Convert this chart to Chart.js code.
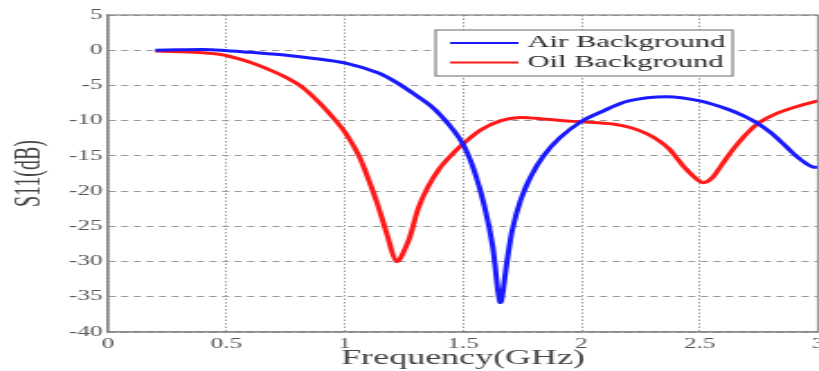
<!DOCTYPE html>
<html>
<head>
<meta charset="utf-8">
<script src="https://cdn.jsdelivr.net/npm/chart.js@4/dist/chart.umd.min.js"></script>
<style>
	html, body { margin: 0; padding: 0; background: #fff; overflow: hidden; }
	/* the reference is a horizontally stretched figure, so draw narrow and stretch */
	#wrap { width: 462px; height: 371px; transform: scaleX(1.8); transform-origin: 0 0; }
</style>
</head>
<body>
<div id="wrap"><canvas id="s11Chart"></canvas></div>
<script>
const airFreq = [0.2, 0.3, 0.4, 0.476, 0.6, 0.754, 0.88, 1.0, 1.14, 1.22, 1.31, 1.36, 1.41, 1.465, 1.507, 1.55, 1.59, 1.625, 1.657, 1.687, 1.708, 1.743, 1.785, 1.84, 1.91, 2.0, 2.08, 2.2, 2.36, 2.5, 2.62, 2.69, 2.75, 2.8, 2.85, 2.9, 2.95, 2.98, 3.0];
const airS11 = [0, 0.05, 0.1, 0, -0.3, -0.7, -1.2, -1.8, -3.2, -4.6, -6.6, -7.8, -9.4, -11.6, -13.8, -17.4, -22.1, -27.8, -35.8, -29.7, -25.5, -21.3, -18, -15, -12.4, -10.1, -8.8, -7.2, -6.6, -7.2, -8.4, -9.4, -10.5, -11.7, -13.2, -14.8, -16.1, -16.6, -16.6];

const oilFreq = [0.2, 0.3, 0.4, 0.476, 0.55, 0.615, 0.69, 0.754, 0.823, 0.893, 0.962, 1.004, 1.06, 1.1, 1.14, 1.18, 1.22, 1.27, 1.31, 1.35, 1.4, 1.45, 1.5, 1.576, 1.66, 1.74, 1.85, 1.965, 2.07, 2.14, 2.21, 2.28, 2.33, 2.37, 2.41, 2.44, 2.48, 2.515, 2.55, 2.58, 2.62, 2.65, 2.7, 2.75, 2.83, 2.92, 3.0];
const oilS11 = [-0.1, -0.2, -0.35, -0.6, -1.2, -1.9, -2.9, -3.9, -5.3, -7.45, -10.0, -11.8, -15, -18.3, -22, -26.3, -30, -27, -22.5, -19.5, -16.8, -14.9, -13.3, -11.3, -10.0, -9.55, -9.8, -10.1, -10.3, -10.5, -11.0, -11.9, -12.9, -14, -15.6, -16.8, -18.1, -18.8, -18.2, -16.9, -15.0, -13.7, -11.8, -10.3, -8.9, -7.9, -7.2];

const xTicks = [0, 0.5, 1, 1.5, 2, 2.5, 3];
const yTicks = [5, 0, -5, -10, -15, -20, -25, -30, -35, -40];

const toPoints = (xs, ys) => xs.map((x, i) => ({ x: x, y: ys[i] }));

const frameAndLegend = {
	id: "frameAndLegend",
	afterDraw(chart) {
		const c = chart.ctx;
		const a = chart.chartArea;
		c.save();
		c.strokeStyle = "#8a8a8a";
		c.lineWidth = 1.3;
		c.strokeRect(a.left, a.top, a.right - a.left, a.bottom - a.top);

		const x0 = a.left + 182, y0 = a.top + 15, w = 165, h = 46;
		c.fillStyle = "#fff";
		c.fillRect(x0, y0, w, h);
		c.strokeStyle = "#8a8a8a";
		c.strokeRect(x0, y0, w, h);
		c.font = "17px 'Liberation Serif'";
		c.textBaseline = "middle";
		chart.data.datasets.forEach((ds, i) => {
			const y = y0 + 13 + i * 19.5;
			c.strokeStyle = ds.borderColor;
			c.lineWidth = 2;
			c.beginPath();
			c.moveTo(x0 + 8, y);
			c.lineTo(x0 + 46, y);
			c.stroke();
			c.fillStyle = "#2a2a2a";
			c.fillText(ds.label, x0 + 51, y);
		});
		c.restore();
	},
};

const ctx = document.getElementById("s11Chart");

new Chart(ctx, {
	type: "line",
	data: {
		datasets: [
			{
				label: "Air Background",
				data: toPoints(airFreq, airS11),
				borderColor: "#1a1aff",
				borderWidth: 3,
				pointRadius: 0,
				tension: 0.3,
			},
			{
				label: "Oil Background",
				data: toPoints(oilFreq, oilS11),
				borderColor: "#ff1a1a",
				borderWidth: 3,
				pointRadius: 0,
				tension: 0.3,
			},
		],
	},
	options: {
		responsive: true,
		maintainAspectRatio: false,
		animation: false,
		events: [],
		layout: { padding: { top: 15, right: 0, left: 0, bottom: 0 } },
		plugins: {
			legend: { display: false },
			tooltip: { enabled: false },
		},
		scales: {
			x: {
				type: "linear",
				min: 0,
				max: 3,
				afterBuildTicks: (scale) => {
					scale.ticks = xTicks.map((v) => ({ value: v }));
				},
				afterFit: (scale) => {
					scale.height = 39;
				},
				grid: { color: "#9a9a9a", drawTicks: false },
				border: { color: "#8a8a8a", width: 1.3, dash: [1.5, 2] },
				ticks: {
					padding: 4,
					color: "#555",
					font: { family: "'Liberation Serif'", size: 14 },
					callback: (value) => String(value),
				},
				title: {
					display: true,
					text: "Frequency(GHz)",
					color: "#444",
					padding: { top: 0, bottom: 0 },
					font: { family: "'Liberation Serif'", size: 20 },
				},
			},
			y: {
				min: -40,
				max: 5,
				afterBuildTicks: (scale) => {
					scale.ticks = yTicks.map((v) => ({ value: v }));
				},
				afterFit: (scale) => {
					scale.width = 60;
				},
				grid: { color: "#9a9a9a", drawTicks: false },
				border: { color: "#8a8a8a", width: 1.3, dash: [4, 3] },
				ticks: {
					padding: 3,
					color: "#555",
					font: { family: "'Liberation Serif'", size: 14 },
					callback: (value) => String(value),
				},
				title: {
					display: true,
					text: "S11(dB)",
					color: "#444",
					padding: { top: 5, bottom: 0 },
					font: { family: "'Liberation Serif'", size: 20 },
				},
			},
		},
	},
	plugins: [frameAndLegend],
});
</script>
</body>
</html>
